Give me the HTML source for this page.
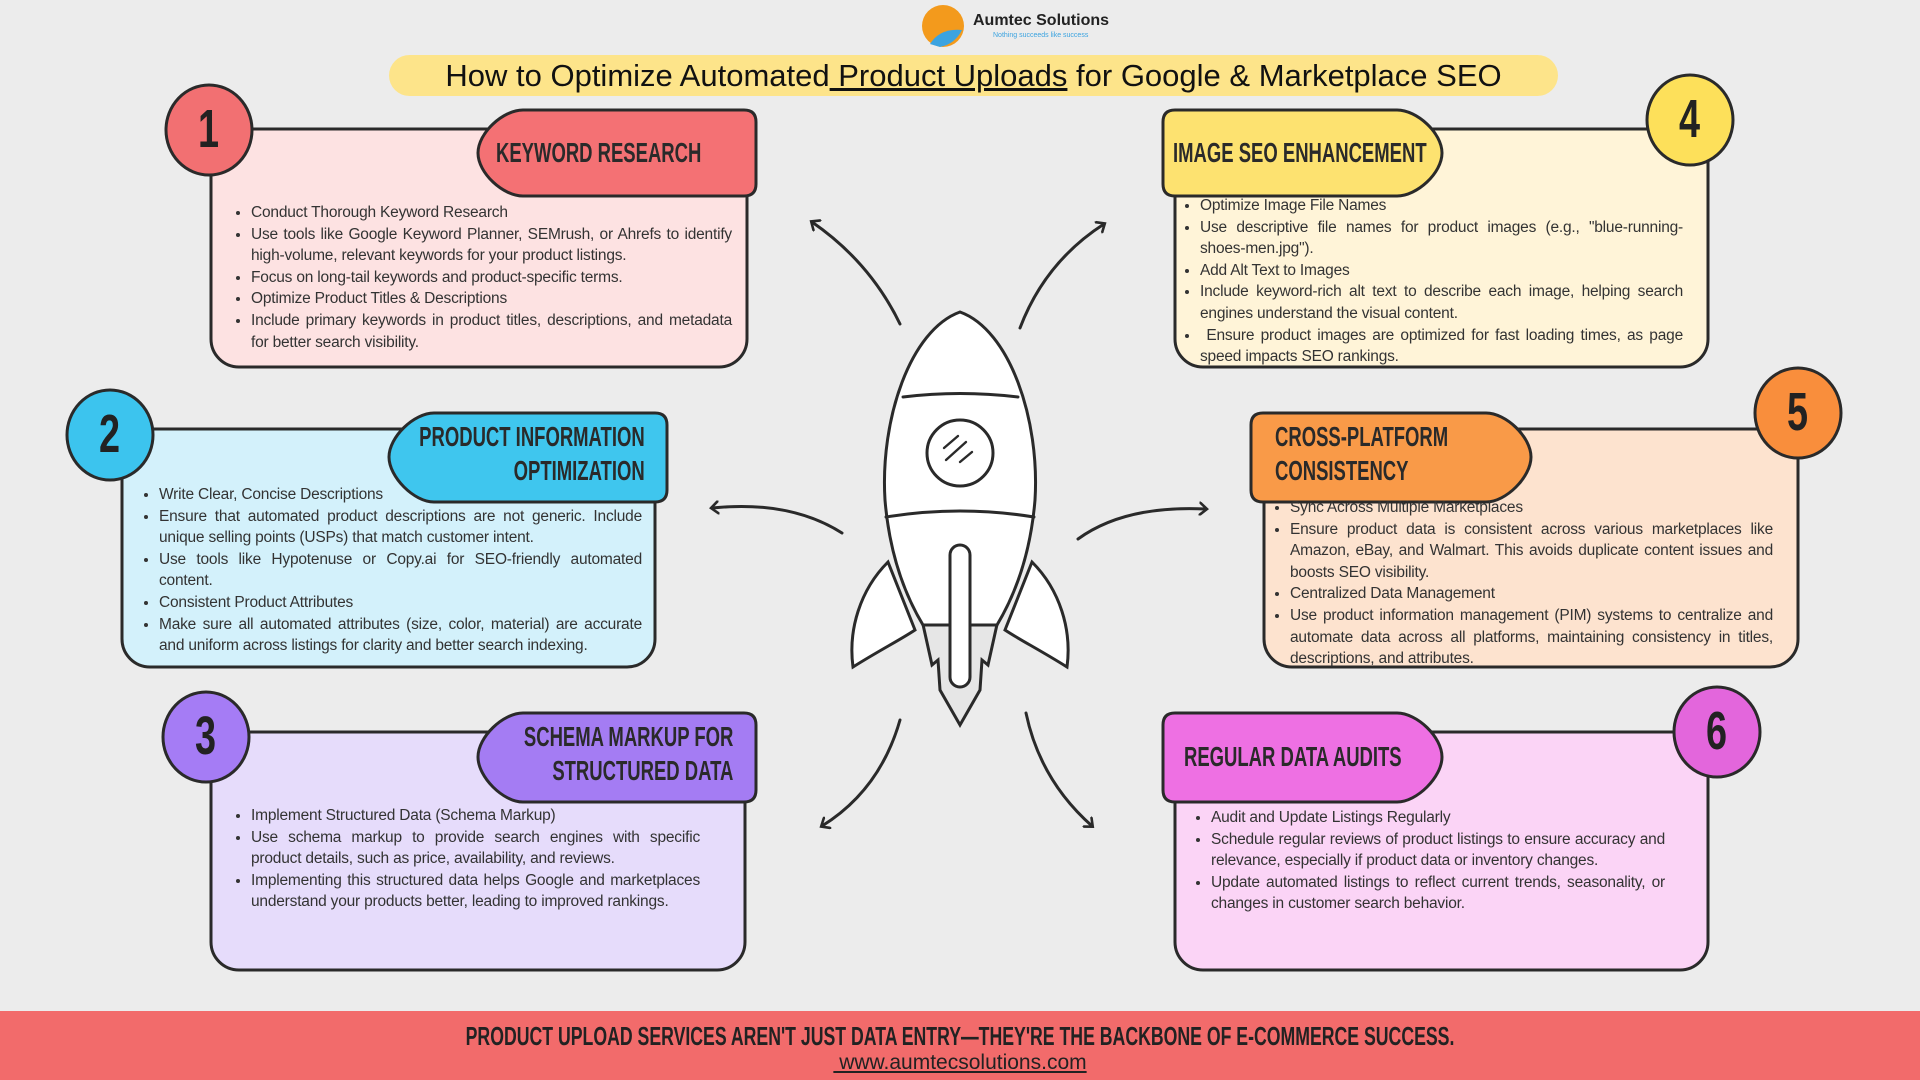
<!DOCTYPE html>
<html><head><meta charset="utf-8"><style>
html,body{margin:0;padding:0}
body{width:1920px;height:1080px;position:relative;overflow:hidden;background:#ececec;font-family:"Liberation Sans",sans-serif}
svg{position:absolute;left:0;top:0}
.t{position:absolute;font-size:15.5px;line-height:21.6px;color:#333;text-align:justify;letter-spacing:-0.2px}
.t ul{margin:0;padding:0 0 0 14px}
.t li{margin:0;padding-left:0}
.h{position:absolute;font-family:"Liberation Sans",sans-serif;font-weight:bold;font-size:28px;line-height:34px;color:#2a2a2a;white-space:nowrap;transform:scaleX(0.66);transform-origin:left top}
.hr{transform-origin:right top;text-align:right}
.n{position:absolute;font-family:'Liberation Sans',sans-serif;font-weight:bold;font-size:54px;color:#222;transform:scaleX(0.7);transform-origin:left top}
.title{position:absolute;left:389px;top:55px;width:1169px;height:41px;background:#fde48a;border-radius:21px;text-align:center;font-size:31px;line-height:41px;color:#111;font-family:"Liberation Sans",sans-serif}
.foot{position:absolute;left:0;top:1011px;width:1920px;height:69px;background:#f26b6b;text-align:center}
</style></head><body>
<svg width="1920" height="1080" viewBox="0 0 1920 1080">
<defs><marker id="a" markerWidth="14" markerHeight="14" refX="7" refY="7" orient="auto" markerUnits="userSpaceOnUse"><path d="M1 1 L8 7 L1 13" fill="none" stroke="#2a2a2a" stroke-width="2.6" stroke-linecap="round"/></marker></defs>
<g stroke="#2a2a2a" stroke-width="3" fill="none" stroke-linecap="round">
<rect x="211" y="129" width="536" height="238" rx="28" fill="#fde2e2"/>
<rect x="1175" y="129" width="533" height="238" rx="28" fill="#fff4d8"/>
<rect x="122" y="429" width="533" height="238" rx="28" fill="#d3f1fb"/>
<rect x="1264" y="429" width="534" height="238" rx="28" fill="#fde3cf"/>
<rect x="211" y="732" width="534" height="238" rx="28" fill="#e6dcfb"/>
<rect x="1175" y="732" width="533" height="238" rx="28" fill="#fbd4f6"/>
<path d="M523 110 H744 Q756 110 756 122 V184 Q756 196 744 196 H523 C503 196 478 173 478 153 C478 133 503 110 523 110Z" fill="#f47174"/>
<path d="M434 413 H655 Q667 413 667 425 V490 Q667 502 655 502 H434 C414 502 389 477 389 457 C389 437 414 413 434 413Z" fill="#3fc6ee"/>
<path d="M523 713 H744 Q756 713 756 725 V790 Q756 802 744 802 H523 C503 802 478 777 478 757 C478 737 503 713 523 713Z" fill="#a47cf3"/>
<path d="M1175 110 H1397 C1417 110 1442 133 1442 153 C1442 173 1417 196 1397 196 H1175 Q1163 196 1163 184 V122 Q1163 110 1175 110Z" fill="#fde270"/>
<path d="M1263 413 H1486 C1506 413 1531 437 1531 457 C1531 477 1506 502 1486 502 H1263 Q1251 502 1251 490 V425 Q1251 413 1263 413Z" fill="#f99a48"/>
<path d="M1175 713 H1397 C1417 713 1442 737 1442 757 C1442 777 1417 802 1397 802 H1175 Q1163 802 1163 790 V725 Q1163 713 1175 713Z" fill="#ee70e3"/>
<ellipse cx="209" cy="130" rx="43" ry="45" fill="#f27072"/>
<ellipse cx="110" cy="435" rx="43" ry="45" fill="#3cc4ee"/>
<ellipse cx="206" cy="737" rx="43" ry="45" fill="#a57cf5"/>
<ellipse cx="1690" cy="120" rx="43" ry="45" fill="#fde05a"/>
<ellipse cx="1798" cy="413" rx="43" ry="45" fill="#f98e3c"/>
<ellipse cx="1717" cy="732" rx="43" ry="45" fill="#e366dc"/>
<path d="M900 324 Q870 262 812 222" marker-end="url(#a)"/>
<path d="M1020 328 Q1045 262 1104 224" marker-end="url(#a)"/>
<path d="M842 533 Q790 500 712 508" marker-end="url(#a)"/>
<path d="M1078 539 Q1125 505 1206 509" marker-end="url(#a)"/>
<path d="M900 720 Q880 790 822 826" marker-end="url(#a)"/>
<path d="M1026 713 Q1040 780 1092 826" marker-end="url(#a)"/>
<path d="M888 562 C860 590 848 630 853 667 C880 650 900 640 915 630 Z" fill="#fff"/>
<path d="M1032 562 C1060 590 1072 630 1067 667 C1040 650 1020 640 1005 630 Z" fill="#fff"/>
<path d="M922 620 L998 620 L988 665 L982 660 L980 690 L960 725 L940 690 L938 660 L932 665 Z" fill="#e6e6e6"/>
<path d="M960 312 C1010 330 1040 420 1035 500 C1030 560 1012 600 997 625 L923 625 C908 600 890 560 885 500 C880 420 910 330 960 312Z" fill="#fff"/>
<path d="M903 397 Q960 390 1018 397"/>
<path d="M886 517 Q960 505 1034 517"/>
<circle cx="960" cy="453" r="33" fill="#fff"/>
<path d="M944 448 L958 436 M946 460 L966 442 M960 462 L972 452" stroke-width="2.4"/>
<rect x="950" y="545" width="20" height="142" rx="10" fill="#fff"/>
</g>
<circle cx="943" cy="26" r="21" fill="#f39a1c"/>
<path d="M930 44 Q940 28 962 30 Q955 44 940 47Z" fill="#3ba3e0"/>
</svg>
<div style="position:absolute;left:973px;top:12px;font-family:'Liberation Sans',sans-serif;font-weight:bold;font-size:16px;color:#222">Aumtec Solutions</div>
<div style="position:absolute;left:993px;top:32px;font-family:'Liberation Sans',sans-serif;font-size:7px;color:#3ba3e0">Nothing succeeds like success</div>
<div class="title">How to Optimize Automated<u> Product Uploads</u> for Google &amp; Marketplace SEO</div>

<div class="h" style="left:496px;top:136px">KEYWORD RESEARCH</div>
<div class="h hr" style="right:1275px;top:420px">PRODUCT INFORMATION<br>OPTIMIZATION</div>
<div class="h hr" style="right:1187px;top:720px">SCHEMA MARKUP FOR<br>STRUCTURED DATA</div>
<div class="h" style="left:1173px;top:136px">IMAGE SEO ENHANCEMENT</div>
<div class="h" style="left:1275px;top:420px">CROSS-PLATFORM<br>CONSISTENCY</div>
<div class="h" style="left:1184px;top:740px">REGULAR DATA AUDITS</div>

<div class="t" style="left:237px;top:202px;width:495px"><ul>
<li>Conduct Thorough Keyword Research</li>
<li>Use tools like Google Keyword Planner, SEMrush, or Ahrefs to identify high-volume, relevant keywords for your product listings.</li>
<li>Focus on long-tail keywords and product-specific terms.</li>
<li>Optimize Product Titles &amp; Descriptions</li>
<li>Include primary keywords in product titles, descriptions, and metadata for better search visibility.</li></ul></div>

<div class="t" style="left:1186px;top:195px;width:497px"><ul>
<li>Optimize Image File Names</li>
<li>Use descriptive file names for product images (e.g., "blue-running-shoes-men.jpg").</li>
<li>Add Alt Text to Images</li>
<li>Include keyword-rich alt text to describe each image, helping search engines understand the visual content.</li>
<li>&nbsp;Ensure product images are optimized for fast loading times, as page speed impacts SEO rankings.</li></ul></div>

<div class="t" style="left:145px;top:484px;width:497px"><ul>
<li>Write Clear, Concise Descriptions</li>
<li>Ensure that automated product descriptions are not generic. Include unique selling points (USPs) that match customer intent.</li>
<li>Use tools like Hypotenuse or Copy.ai for SEO-friendly automated content.</li>
<li>Consistent Product Attributes</li>
<li>Make sure all automated attributes (size, color, material) are accurate and uniform across listings for clarity and better search indexing.</li></ul></div>

<div class="t" style="left:1276px;top:497px;width:497px"><ul>
<li>Sync Across Multiple Marketplaces</li>
<li>Ensure product data is consistent across various marketplaces like Amazon, eBay, and Walmart. This avoids duplicate content issues and boosts SEO visibility.</li>
<li>Centralized Data Management</li>
<li>Use product information management (PIM) systems to centralize and automate data across all platforms, maintaining consistency in titles, descriptions, and attributes.</li></ul></div>

<div class="t" style="left:237px;top:805px;width:463px"><ul>
<li>Implement Structured Data (Schema Markup)</li>
<li>Use schema markup to provide search engines with specific product details, such as price, availability, and reviews.</li>
<li>Implementing this structured data helps Google and marketplaces understand your products better, leading to improved rankings.</li></ul></div>

<div class="t" style="left:1197px;top:807px;width:468px"><ul>
<li>Audit and Update Listings Regularly</li>
<li>Schedule regular reviews of product listings to ensure accuracy and relevance, especially if product data or inventory changes.</li>
<li>Update automated listings to reflect current trends, seasonality, or changes in customer search behavior.</li></ul></div>

<div class="n" style="left:198px;top:98px">1</div>
<div class="n" style="left:99px;top:403px">2</div>
<div class="n" style="left:195px;top:705px">3</div>
<div class="n" style="left:1679px;top:88px">4</div>
<div class="n" style="left:1787px;top:381px">5</div>
<div class="n" style="left:1706px;top:700px">6</div>

<div class="foot">
<div style="font-family:'Liberation Sans',sans-serif;font-weight:bold;font-size:26px;line-height:30px;padding-top:10px;color:#222;display:inline-block;transform:scaleX(0.68);white-space:nowrap">PRODUCT UPLOAD SERVICES AREN'T JUST DATA ENTRY—THEY'RE THE BACKBONE OF E-COMMERCE SUCCESS.</div>
<div style="font-family:'Liberation Sans',sans-serif;font-size:21px;line-height:24px;color:#222;text-decoration:underline">&nbsp;www.aumtecsolutions.com</div>
</div>
</body></html>
